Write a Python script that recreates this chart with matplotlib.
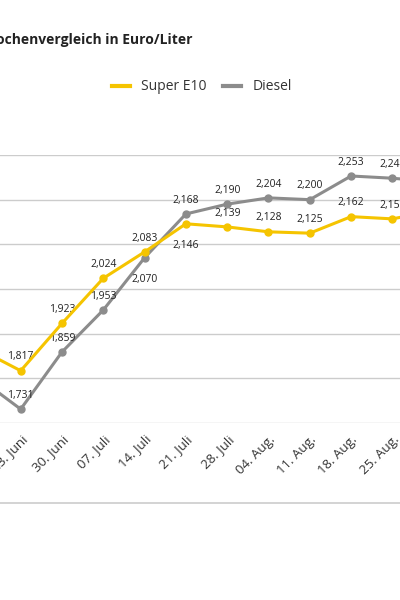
import matplotlib.pyplot as plt
from matplotlib.lines import Line2D

plt.rcParams['font.family'] = ['Open Sans', 'DejaVu Sans']

weeks = ['16. Juni', '23. Juni', '30. Juni', '07. Juli', '14. Juli', '21. Juli',
         '28. Juli', '04. Aug.', '11. Aug.', '18. Aug.', '25. Aug.', '01. Sep.']
super_e10 = [1.865, 1.817, 1.923, 2.024, 2.083, 2.146, 2.139, 2.128, 2.125, 2.162, 2.157, 2.175]
diesel = [1.800, 1.731, 1.859, 1.953, 2.070, 2.168, 2.190, 2.204, 2.200, 2.253, 2.248, 2.240]

YELLOW = '#f5c400'
GREY = '#8c8c8c'

fig = plt.figure(figsize=(4, 6), dpi=100)
ax = fig.add_axes([0, 1 - 423 / 600, 1, (423 - 155) / 600])
x = list(range(len(weeks)))

ax.plot(x, diesel, color=GREY, lw=2.2, marker='o', ms=5, zorder=3)
ax.plot(x, super_e10, color=YELLOW, lw=2.2, marker='o', ms=5, zorder=4)

def fmt(v):
    return f'{v:.3f}'.replace('.', ',')

for i in range(1, 11):
    s, d = super_e10[i], diesel[i]
    s_off = 6
    d_off = 6
    if i == 4:
        d_off = -12
    if i == 5:
        s_off = -12
    ax.annotate(fmt(s), (i, s), xytext=(0, s_off), textcoords='offset points',
                ha='center', va='bottom' if s_off > 0 else 'top', fontsize=7.5, color='#222222')
    ax.annotate(fmt(d), (i, d), xytext=(0, d_off), textcoords='offset points',
                ha='center', va='bottom' if d_off > 0 else 'top', fontsize=7.5, color='#222222')

ax.set_xticks(x)
ax.set_xticklabels(weeks, rotation=45, ha='right', rotation_mode='anchor',
                   fontsize=9.5, color='#333333')
ax.tick_params(axis='x', length=0, pad=7)
ax.set_xlim(1 - 20.7 / 41.3, 1 + (400 - 20.7) / 41.3)
ax.set_ylim(1.7, 2.3)
ax.set_yticks([1.7, 1.8, 1.9, 2.0, 2.1, 2.2, 2.3])
ax.set_yticklabels([])
ax.tick_params(axis='y', length=0)
ax.grid(axis='y', color='#cccccc', lw=1)
ax.set_axisbelow(True)
for sp in ax.spines.values():
    sp.set_visible(False)

fig.text(193 / 400, 1 - 40 / 600, 'Spritpreise im Wochenvergleich in Euro/Liter',
         fontsize=10, fontweight='bold', va='center', ha='right', color='#222222')

handles = [Line2D([], [], color=YELLOW, lw=3), Line2D([], [], color=GREY, lw=3)]
fig.legend(handles, ['Super E10', 'Diesel'], loc='center', bbox_to_anchor=(0.505, 1 - 87 / 600),
           ncol=2, frameon=False, fontsize=10, handlelength=1.3, columnspacing=1.2,
           labelcolor='#333333')

fig.add_artist(Line2D([0, 1], [1 - 503 / 600] * 2, color='#cccccc', lw=1.2,
                      transform=fig.transFigure))

fig.savefig('out.png', dpi=100)
